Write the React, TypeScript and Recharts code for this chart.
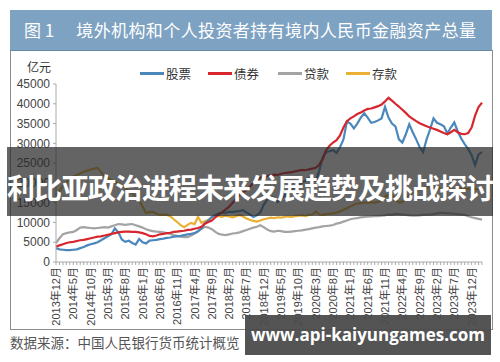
import React from "react";
import { LineChart, Line, XAxis, YAxis } from "recharts";

// monthly, 2013-12 .. 2024-03 (亿元)
const months = Array.from({ length: 124 }, (_, i) => {
  const year = 2013 + Math.floor((11 + i) / 12);
  const month = ((11 + i) % 12) + 1;
  return `${year}年${month}月`;
});

const stocks = [
  3500, 3200, 3100, 3000, 3000, 3100, 3200, 3500, 3800, 4200,
  4500, 4700, 5000, 5500, 6000, 6500, 7000, 8500, 7500, 5700,
  5100, 5400, 4800, 4400, 5800, 5000, 4700, 5400, 5500, 5600,
  5800, 5900, 6100, 6200, 6400, 6500, 6600, 6800, 7000, 7100,
  7300, 7800, 8500, 9800, 10500, 11400, 11800, 12300, 12400, 12500,
  12700, 12600, 12800, 12900, 13100, 12500, 12000, 11400, 11800, 12500,
  14500, 15800, 16500, 16200, 15200, 16000, 16800, 17500, 18300, 19000,
  19500, 20000, 20600, 21200, 21000, 20500, 23000, 26500, 27800, 28000,
  28300, 27600, 29000, 31000, 35500, 35000, 33800, 35000, 36500, 37600,
  36500, 35200, 35400, 35800, 36300, 39200, 36500, 35000, 34300, 31000,
  30200, 32300, 34800, 32800, 31000, 29000, 27800, 31000, 33500, 36300,
  35200, 34800, 34300, 32500, 34000, 35300, 33000, 31200, 29800, 28600,
  27000, 24500, 27200, 27800,
];

const bonds = [
  3900, 4200, 4500, 4800, 5000, 5100, 5300, 5500, 5600, 5800,
  6000, 6200, 6400, 6500, 6700, 6900, 7100, 7300, 7500, 7600,
  7700, 7700, 7600, 7600, 7500, 7300, 7000, 6600, 6500, 6700,
  7000, 7100, 7300, 7400, 7600, 7700, 7800, 7900, 8100, 8200,
  8400, 8600, 8900, 9700, 10100, 10500, 11300, 12000, 12600, 13300,
  14000, 15000, 16000, 17000, 17600, 18200, 19000, 20000, 20800, 21300,
  21600, 21700, 21900, 22100, 22000, 22300, 22500, 22600, 22700, 22900,
  23100, 23300, 23200, 23400, 23600, 23800, 24600, 26000, 28300, 29400,
  30200, 30800, 32000, 34000, 35600, 36300, 36800, 37400, 37800, 38300,
  38700, 38800, 39100, 39400, 39800, 40600, 41500, 40800, 40000, 39300,
  38500, 37700, 36800, 36200, 35600, 35100, 34700, 34300, 34000, 33700,
  33400, 33000, 32600, 32300, 32800, 33400, 32800, 32400, 32300, 32600,
  34000, 37000, 39200, 40300,
];

const loans = [
  4800, 6000, 7000, 7300, 7500, 7600, 8100, 8700, 8800, 8700,
  8600, 8500, 8600, 8700, 8800, 8700, 9000, 9300, 9600, 9500,
  9400, 9500, 9600, 9300, 9000, 8700, 8300, 8000, 7800, 7700,
  7600, 7500, 7300, 7100, 6800, 6600, 6400, 6300, 6300, 6700,
  7200, 7700, 8400, 8900, 8700, 8300, 7600, 7100, 6900, 6800,
  7000, 7200, 7300, 7500, 7800, 8100, 8400, 8700, 8900, 9300,
  8800, 8200, 7800, 7700, 7900, 7800, 7600, 7600, 7700, 7800,
  7900, 8000, 8200, 8300, 8500, 8700, 8800, 9000, 9100, 9200,
  9350, 9700, 9900, 10200, 10500, 10800, 11000, 11100, 11300, 11400,
  11450, 11500, 11600, 11600, 11700, 11800, 12000, 11900, 12100, 12100,
  12000, 11900, 11800, 11700, 11700, 11800, 11900, 12000, 12000, 12100,
  12300, 12400, 12400, 12300, 12300, 12200, 12100, 12000, 11900, 11600,
  11300, 11100, 10900, 10700,
];

const deposits = [
  16800, 18000, 19200, 20200, 21000, 21600, 22000, 22400, 22800, 23100,
  23400, 23600, 23800, 22800, 21600, 21200, 20700, 20300, 19800, 19300,
  18700, 18000, 17400, 16700, 15700, 14000, 12400, 12600, 12700, 12200,
  11900, 12000, 11900, 11600, 10800, 10100, 9300, 8800, 9400, 9900,
  9600, 11400, 9900, 10300, 10700, 11300, 11900, 11600, 11400, 11700,
  11500, 11300, 11600, 11900, 11500, 11000, 10600, 10400, 10200, 10500,
  10800, 11000, 11200, 11100, 11300, 11200, 11400, 11500, 11400, 11600,
  11700, 11800, 11600, 11900, 12000, 12800, 12000, 11900, 12100, 12200,
  12300, 12500, 12800, 13200, 13600, 14000, 14500, 14800, 14900, 15000,
  15000, 15100, 15000, 15200, 15600, 16500, 17000, 16900, 15800, 15000,
  15200, 16000, 16900, 17600, 18200, 18500, 18600, 18800, 19000, 18800,
  18600, 18500, 18400, 18600, 18500, 18300, 18500, 18600, 18400, 18500,
  18600, 18400, 18500, 18500,
];

const yTicks = [0, 5000, 10000, 15000, 20000, 25000, 30000, 35000, 40000, 45000];

const COLORS = {
  stocks: "#4a88bc",
  bonds: "#d7262e",
  loans: "#a3a3a3",
  deposits: "#e9b033",
};

const legendItems = [
  { name: "股票", color: COLORS.stocks, x: 140 },
  { name: "债券", color: COLORS.bonds, x: 208 },
  { name: "贷款", color: COLORS.loans, x: 278 },
  { name: "存款", color: COLORS.deposits, x: 346 },
];

const data = months.map((m, i) => ({
  month: m,
  stocks: stocks[i],
  bonds: bonds[i],
  loans: loans[i],
  deposits: deposits[i],
}));

const FONT = "'Liberation Sans', Arial, 'Noto Sans CJK SC', sans-serif";
const CJK = "'Noto Sans CJK SC', 'Liberation Sans', sans-serif";

// label every 5th month, tick mark on every month
const MonthTick = (props: any) => {
  const { x, y, payload, index } = props;
  const i = index ?? payload?.index ?? 0;
  if (i % 5 !== 0) return <g />;
  return (
    <text
      x={x}
      y={y}
      transform={`rotate(-90 ${x} ${y})`}
      textAnchor="end"
      dominantBaseline="central"
      fontSize={11}
      fill="#444"
      fontFamily={FONT}
    >
      {payload.value}
    </text>
  );
};

const abs = (s: React.CSSProperties): React.CSSProperties => ({ position: "absolute", ...s });

export default function App() {
  return (
    <div style={abs({ left: 0, top: 0, width: 500, height: 362, background: "#fff", overflow: "hidden", fontFamily: CJK })}>
      {/* panel */}
      <div style={abs({ left: 10, top: 50, width: 481, height: 279, border: "1px solid #8c8c8c", borderTop: "none", background: "#fff" })} />
      {/* header */}
      <div
        style={abs({
          left: 10,
          top: 10,
          width: 482,
          height: 40,
          background: "#7ea2c2",
          borderBottom: "1px solid #6a8aa6",
          color: "#fff",
          fontSize: 17,
          lineHeight: "40px",
          whiteSpace: "nowrap",
        })}
      >
        <span style={{ marginLeft: 14 }}>图 1</span>
        <span style={{ marginLeft: 22, letterSpacing: 0.4 }}>境外机构和个人投资者持有境内人民币金融资产总量</span>
      </div>

      {/* legend */}
      <div style={abs({ left: 27, top: 59, fontSize: 12, color: "#333", lineHeight: "16px" })}>亿元</div>
      {legendItems.map((it) => (
        <div key={it.name} style={abs({ left: it.x, top: 59, height: 16, whiteSpace: "nowrap" })}>
          <span style={{ display: "inline-block", width: 24, height: 3, background: it.color, verticalAlign: "middle" }} />
          <span style={{ fontSize: 12.5, color: "#333", marginLeft: 2, verticalAlign: "middle" }}>{it.name}</span>
        </div>
      ))}

      <div style={abs({ left: 0, top: 0 })}>
        <LineChart width={500} height={362} data={data} margin={{ top: 84, right: 18, bottom: 0, left: 0 }}>
          <XAxis
            dataKey="month"
            interval={0}
            height={100}
            tick={<MonthTick />}
            tickSize={3}
            tickMargin={2}
            axisLine={{ stroke: "#aaa" }}
            tickLine={{ stroke: "#aaa" }}
          />
          <YAxis
            width={56}
            domain={[0, 45000]}
            ticks={yTicks}
            interval={0}
            tickSize={3}
            tickMargin={3}
            axisLine={{ stroke: "#aaa" }}
            tickLine={{ stroke: "#aaa" }}
            tick={{ fontSize: 12, fill: "#444", fontFamily: FONT }}
          />
          <Line dataKey="loans" stroke={COLORS.loans} strokeWidth={2.2} dot={false} isAnimationActive={false} />
          <Line dataKey="deposits" stroke={COLORS.deposits} strokeWidth={2.2} dot={false} isAnimationActive={false} />
          <Line dataKey="stocks" stroke={COLORS.stocks} strokeWidth={2.2} dot={false} isAnimationActive={false} />
          <Line dataKey="bonds" stroke={COLORS.bonds} strokeWidth={2.2} dot={false} isAnimationActive={false} />
        </LineChart>
      </div>

      {/* overlay banner */}
      <div
        style={abs({
          left: 7,
          top: 147,
          width: 486,
          height: 69,
          background: "rgba(40,40,40,0.72)",
          color: "#fff",
          fontSize: 28,
          fontWeight: 700,
          textAlign: "center",
          lineHeight: "80px",
          letterSpacing: -1,
          whiteSpace: "nowrap",
        })}
      >
        利比亚政治进程未来发展趋势及挑战探讨
      </div>

      {/* footer */}
      <div style={abs({ left: 10, top: 333, fontSize: 13.5, color: "#555", lineHeight: "18px", whiteSpace: "nowrap" })}>
        数据来源：中国人民银行货币统计概览
      </div>
      <div
        style={abs({
          left: 245,
          top: 315,
          width: 246,
          height: 40,
          background: "rgba(75,75,75,0.95)",
          color: "#fff",
          fontSize: 17,
          fontWeight: 700,
          lineHeight: "40px",
          textAlign: "center",
          fontFamily: "'Open Sans', 'Liberation Sans', sans-serif",
          whiteSpace: "nowrap",
        })}
      >
        www.api-kaiyungames.com
      </div>
    </div>
  );
}
